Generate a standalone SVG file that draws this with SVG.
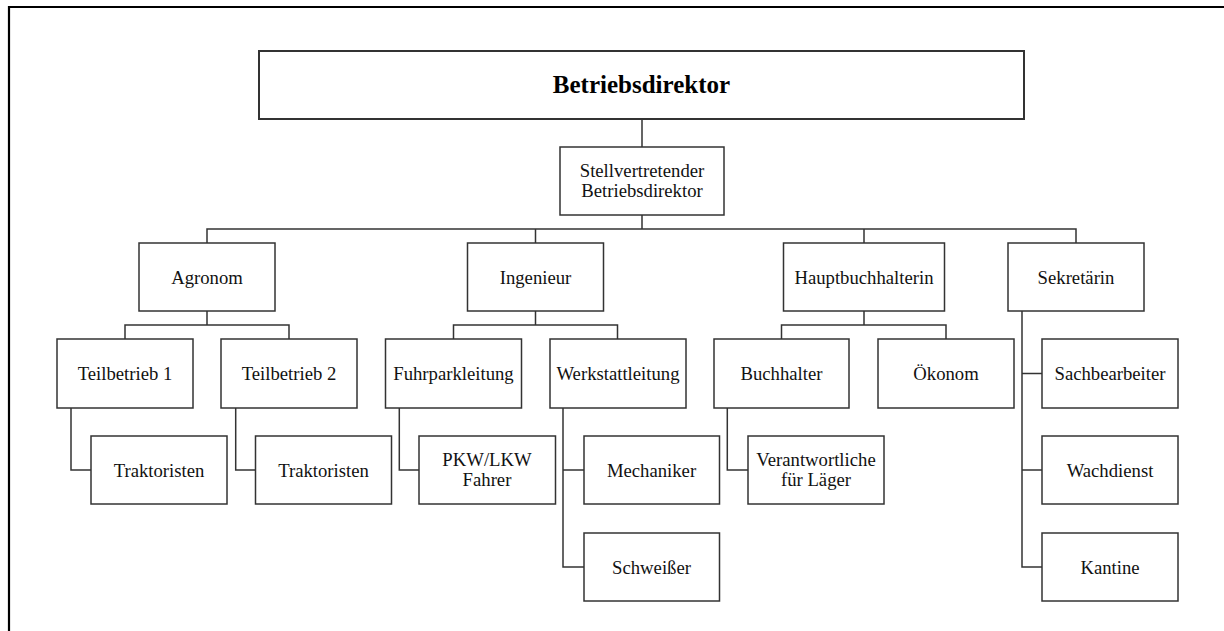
<svg xmlns="http://www.w3.org/2000/svg" width="1224" height="631" viewBox="0 0 1224 631">
<style>
.box{fill:#fff;stroke:#333;stroke-width:1.5}
.top{fill:#fff;stroke:#333;stroke-width:2}
.t{font-family:"Liberation Serif","Times New Roman",serif;font-size:18.7px;fill:#111;text-anchor:middle}
.b{font-family:"Liberation Serif","Times New Roman",serif;font-size:25px;font-weight:bold;fill:#000;text-anchor:middle}
#connectors path{fill:none;stroke:#333;stroke-width:1.5}
</style>
<rect width="1224" height="631" fill="#fff"/>
<path d="M9,631 V7 H1224" fill="none" stroke="#000" stroke-width="2.2"/>
<g id="connectors">
<path d="M642,119 V147 M642,215 V229 M207,243 V229 H1076 V243 M535.5,229 V243 M864,229 V243"/>
<path d="M207,311 V325 M125,339 V325 H289 V339"/>
<path d="M535.5,311 V325 M453.5,339 V325 H617.5 V339"/>
<path d="M864,311 V325 M781.5,339 V325 H946 V339"/>
<path d="M1022,311 V567 H1042 M1022,373.5 H1042 M1022,470 H1042"/>
<path d="M71,408 V470 H91"/>
<path d="M235.7,408 V470 H255.5"/>
<path d="M399.3,408 V470 H419"/>
<path d="M563,408 V567 H584 M563,470 H584"/>
<path d="M727.3,408 V470 H748"/>
</g>
<g id="betriebsdirektor"><rect class="top" x="259" y="51" width="765" height="68"/><text class="b" x="641.5" y="93">Betriebsdirektor</text></g>
<g id="stellvertreter"><rect class="box" x="560" y="147" width="164" height="68"/><text class="t" x="642" y="177">Stellvertretender</text><text class="t" x="642" y="197">Betriebsdirektor</text></g>
<g id="agronom"><rect class="box" x="139" y="243" width="136" height="68"/><text class="t" x="207" y="283.5">Agronom</text></g>
<g id="ingenieur"><rect class="box" x="467.5" y="243" width="136" height="68"/><text class="t" x="535.5" y="283.5">Ingenieur</text></g>
<g id="hauptbuchhalterin"><rect class="box" x="783.5" y="243" width="161" height="68"/><text class="t" x="864" y="283.5">Hauptbuchhalterin</text></g>
<g id="sekretaerin"><rect class="box" x="1008" y="243" width="136" height="68"/><text class="t" x="1076" y="283.5">Sekretärin</text></g>
<g id="teilbetrieb1"><rect class="box" x="57" y="339" width="136" height="69"/><text class="t" x="125" y="380">Teilbetrieb 1</text></g>
<g id="teilbetrieb2"><rect class="box" x="221" y="339" width="136" height="69"/><text class="t" x="289" y="380">Teilbetrieb 2</text></g>
<g id="fuhrparkleitung"><rect class="box" x="385.5" y="339" width="136" height="69"/><text class="t" x="453.5" y="380">Fuhrparkleitung</text></g>
<g id="werkstattleitung"><rect class="box" x="550" y="339" width="136" height="69"/><text class="t" x="618" y="380">Werkstattleitung</text></g>
<g id="buchhalter"><rect class="box" x="714" y="339" width="135" height="69"/><text class="t" x="781.5" y="380">Buchhalter</text></g>
<g id="oekonom"><rect class="box" x="878" y="339" width="136" height="69"/><text class="t" x="946" y="380">Ökonom</text></g>
<g id="sachbearbeiter"><rect class="box" x="1042" y="339" width="136" height="69"/><text class="t" x="1110" y="380">Sachbearbeiter</text></g>
<g id="traktoristen1"><rect class="box" x="91" y="436" width="136" height="68"/><text class="t" x="159" y="476.5">Traktoristen</text></g>
<g id="traktoristen2"><rect class="box" x="255.5" y="436" width="136" height="68"/><text class="t" x="323.5" y="476.5">Traktoristen</text></g>
<g id="pkwlkw"><rect class="box" x="419" y="436" width="136.5" height="68"/><text class="t" x="487" y="466">PKW/LKW</text><text class="t" x="487" y="486">Fahrer</text></g>
<g id="mechaniker"><rect class="box" x="584" y="436" width="135.5" height="68"/><text class="t" x="651.5" y="476.5">Mechaniker</text></g>
<g id="verantwortliche"><rect class="box" x="748" y="436" width="136" height="68"/><text class="t" x="816" y="466">Verantwortliche</text><text class="t" x="816" y="486">für Läger</text></g>
<g id="wachdienst"><rect class="box" x="1042" y="436" width="136" height="68"/><text class="t" x="1110" y="476.5">Wachdienst</text></g>
<g id="schweisser"><rect class="box" x="584" y="533" width="135.5" height="68"/><text class="t" x="651.5" y="573.5">Schweißer</text></g>
<g id="kantine"><rect class="box" x="1042" y="533" width="136" height="68"/><text class="t" x="1110" y="573.5">Kantine</text></g>
</svg>
